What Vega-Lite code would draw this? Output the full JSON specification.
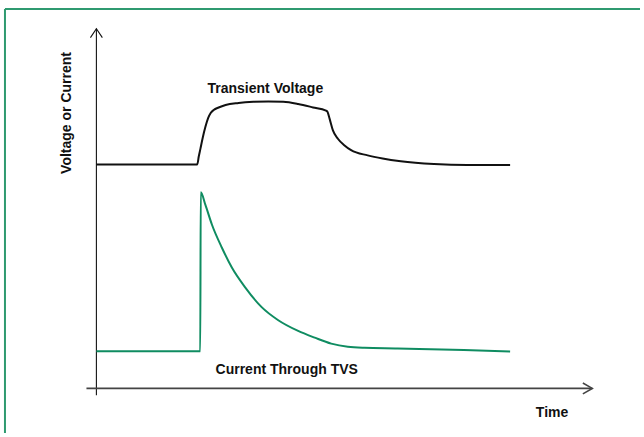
{
  "$schema": "https://vega.github.io/schema/vega-lite/v6.json",
  "width": 644,
  "height": 437,
  "padding": 0,
  "autosize": {"type": "fit", "contains": "padding"},
  "background": "white",
  "config": {"view": {"stroke": null}},
  "datasets": {
    "border": [
      {"part": "top", "i": 0, "t": -18.4, "v": 95.75},
      {"part": "top", "i": 1, "t": 109.4, "v": 95.75},
      {"part": "left", "i": 0, "t": -18.4, "v": 95.75},
      {"part": "left", "i": 1, "t": -18.4, "v": -11.25}
    ],
    "yaxis": [
      {"part": "line", "i": 0, "t": 0, "v": 90.75},
      {"part": "line", "i": 1, "t": 0, "v": -1.75},
      {"part": "arrow", "i": 0, "t": -1.2, "v": 88.5},
      {"part": "arrow", "i": 1, "t": 0, "v": 90.75},
      {"part": "arrow", "i": 2, "t": 1.2, "v": 88.5}
    ],
    "xaxis": [
      {"part": "line", "i": 0, "t": -2, "v": 0},
      {"part": "line", "i": 1, "t": 99.8, "v": 0},
      {"part": "arrow", "i": 0, "t": 97.9, "v": 1.375},
      {"part": "arrow", "i": 1, "t": 99.8, "v": 0},
      {"part": "arrow", "i": 2, "t": 97.9, "v": -1.375}
    ],
    "curves": [
      {"series": "Transient Voltage", "i": 0, "t": 0, "v": 56.5},
      {"series": "Transient Voltage", "i": 1, "t": 20.3, "v": 56.5},
      {"series": "Transient Voltage", "i": 2, "t": 20.6, "v": 58.5},
      {"series": "Transient Voltage", "i": 3, "t": 20.94, "v": 60.5},
      {"series": "Transient Voltage", "i": 4, "t": 21.4, "v": 63.25},
      {"series": "Transient Voltage", "i": 5, "t": 21.94, "v": 66},
      {"series": "Transient Voltage", "i": 6, "t": 22.5, "v": 68.25},
      {"series": "Transient Voltage", "i": 7, "t": 23.0, "v": 69.5},
      {"series": "Transient Voltage", "i": 8, "t": 23.6, "v": 70.25},
      {"series": "Transient Voltage", "i": 9, "t": 24.6, "v": 70.875},
      {"series": "Transient Voltage", "i": 10, "t": 26, "v": 71.5},
      {"series": "Transient Voltage", "i": 11, "t": 28.6, "v": 72},
      {"series": "Transient Voltage", "i": 12, "t": 31.6, "v": 72.3},
      {"series": "Transient Voltage", "i": 13, "t": 34.6, "v": 72.4},
      {"series": "Transient Voltage", "i": 14, "t": 37.6, "v": 72.3},
      {"series": "Transient Voltage", "i": 15, "t": 40.6, "v": 71.75},
      {"series": "Transient Voltage", "i": 16, "t": 43.6, "v": 70.9},
      {"series": "Transient Voltage", "i": 17, "t": 46.2, "v": 70.1},
      {"series": "Transient Voltage", "i": 18, "t": 46.46, "v": 69.9},
      {"series": "Transient Voltage", "i": 19, "t": 46.94, "v": 68},
      {"series": "Transient Voltage", "i": 20, "t": 47.6, "v": 65.1},
      {"series": "Transient Voltage", "i": 21, "t": 48.6, "v": 63},
      {"series": "Transient Voltage", "i": 22, "t": 49.94, "v": 61.3},
      {"series": "Transient Voltage", "i": 23, "t": 51.26, "v": 60.1},
      {"series": "Transient Voltage", "i": 24, "t": 54.6, "v": 58.8},
      {"series": "Transient Voltage", "i": 25, "t": 57.6, "v": 58},
      {"series": "Transient Voltage", "i": 26, "t": 61.26, "v": 57.3},
      {"series": "Transient Voltage", "i": 27, "t": 67.94, "v": 56.6},
      {"series": "Transient Voltage", "i": 28, "t": 74.6, "v": 56.35},
      {"series": "Transient Voltage", "i": 29, "t": 83.26, "v": 56.4},
      {"series": "Current Through TVS", "i": 0, "t": 0, "v": 9.375},
      {"series": "Current Through TVS", "i": 1, "t": 20.9, "v": 9.375},
      {"series": "Current Through TVS", "i": 2, "t": 21.0, "v": 49.5},
      {"series": "Current Through TVS", "i": 3, "t": 21.94, "v": 46.3},
      {"series": "Current Through TVS", "i": 4, "t": 23.26, "v": 41.3},
      {"series": "Current Through TVS", "i": 5, "t": 25.26, "v": 35.5},
      {"series": "Current Through TVS", "i": 6, "t": 27.26, "v": 30.5},
      {"series": "Current Through TVS", "i": 7, "t": 29.94, "v": 25.5},
      {"series": "Current Through TVS", "i": 8, "t": 33.26, "v": 20.5},
      {"series": "Current Through TVS", "i": 9, "t": 36.6, "v": 17.2},
      {"series": "Current Through TVS", "i": 10, "t": 40.6, "v": 14.5},
      {"series": "Current Through TVS", "i": 11, "t": 43.94, "v": 12.8},
      {"series": "Current Through TVS", "i": 12, "t": 47.26, "v": 11.3},
      {"series": "Current Through TVS", "i": 13, "t": 50.6, "v": 10.5},
      {"series": "Current Through TVS", "i": 14, "t": 53.94, "v": 10.25},
      {"series": "Current Through TVS", "i": 15, "t": 60.6, "v": 10.1},
      {"series": "Current Through TVS", "i": 16, "t": 67.26, "v": 9.9},
      {"series": "Current Through TVS", "i": 17, "t": 73.94, "v": 9.7},
      {"series": "Current Through TVS", "i": 18, "t": 83.26, "v": 9.3}
    ],
    "labels": [
      {"label": "Transient Voltage", "t": 34, "v": 74.5},
      {"label": "Current Through TVS", "t": 38.3, "v": 3.75},
      {"label": "Time", "t": 91.7, "v": -7.25}
    ],
    "ylabel": [
      {"label": "Voltage or Current", "t": -5.9, "v": 69.5}
    ]
  },
  "encoding": {
    "x": {"field": "t", "type": "quantitative", "axis": null, "scale": {"domain": [-19.4, 109.4], "nice": false, "zero": false}},
    "y": {"field": "v", "type": "quantitative", "axis": null, "scale": {"domain": [-11.25, 98], "nice": false, "zero": false}}
  },
  "layer": [
    {
      "data": {"name": "border"},
      "mark": {"type": "line", "stroke": "#2f9a70", "strokeWidth": 2, "clip": false},
      "encoding": {"detail": {"field": "part"}, "order": {"field": "i"}}
    },
    {
      "data": {"name": "yaxis"},
      "mark": {"type": "line", "stroke": "#111111", "strokeWidth": 1.1},
      "encoding": {"detail": {"field": "part"}, "order": {"field": "i"}}
    },
    {
      "data": {"name": "xaxis"},
      "mark": {"type": "line", "stroke": "#444444", "strokeWidth": 1.6},
      "encoding": {"detail": {"field": "part"}, "order": {"field": "i"}}
    },
    {
      "data": {"name": "curves"},
      "mark": {"type": "line", "strokeWidth": 2, "interpolate": "monotone"},
      "encoding": {
        "color": {"field": "series", "type": "nominal", "legend": null, "scale": {"domain": ["Transient Voltage", "Current Through TVS"], "range": ["#111111", "#0f8c61"]}},
        "order": {"field": "i"}
      }
    },
    {
      "data": {"name": "labels"},
      "mark": {"type": "text", "font": "Liberation Sans", "fontWeight": "bold", "fontSize": 14, "align": "center", "baseline": "alphabetic", "color": "#111111"},
      "encoding": {"text": {"field": "label"}}
    },
    {
      "data": {"name": "ylabel"},
      "mark": {"type": "text", "font": "Liberation Sans", "fontWeight": "bold", "fontSize": 14, "align": "center", "baseline": "middle", "angle": 270, "color": "#111111"},
      "encoding": {"text": {"field": "label"}}
    }
  ]
}
